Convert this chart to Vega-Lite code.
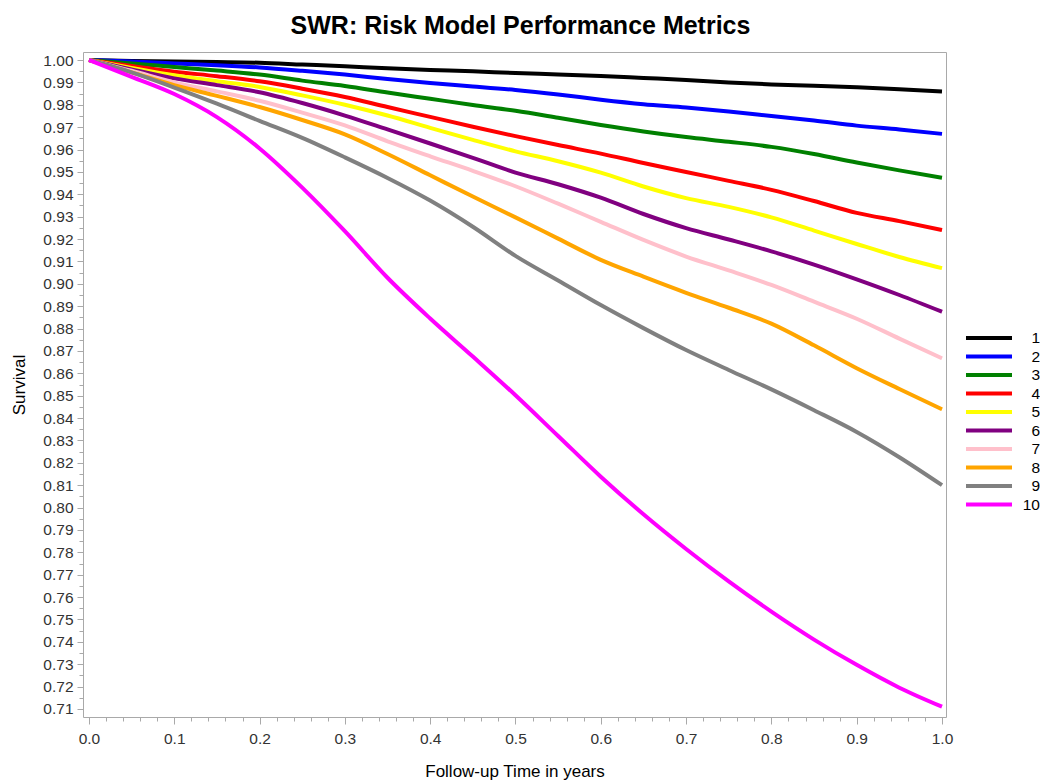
{
  "$schema": "https://vega.github.io/schema/vega-lite/v6.json",
  "autosize": "none",
  "width": 863,
  "height": 665,
  "padding": {"left": 83, "top": 52, "right": 94, "bottom": 67},
  "background": "white",
  "title": {"text": "SWR: Risk Model Performance Metrics", "fontSize": 25, "font": "Liberation Sans", "fontWeight": "bold", "color": "#000000", "anchor": "middle", "offset": -7, "baseline": "alphabetic", "dx": 6},
  "datasets": {
    "km": [
      {"t":0,"s":1.0,"g":1},{"t":0.05,"s":0.9996,"g":1},{"t":0.1,"s":0.9993,"g":1},{"t":0.15,"s":0.9991,"g":1},{"t":0.2,"s":0.9988,"g":1},{"t":0.25,"s":0.998,"g":1},{"t":0.3,"s":0.9972,"g":1},{"t":0.35,"s":0.9963,"g":1},{"t":0.4,"s":0.9956,"g":1},{"t":0.45,"s":0.995,"g":1},{"t":0.5,"s":0.9942,"g":1},{"t":0.55,"s":0.9936,"g":1},{"t":0.6,"s":0.9929,"g":1},{"t":0.65,"s":0.992,"g":1},{"t":0.7,"s":0.9911,"g":1},{"t":0.75,"s":0.99,"g":1},{"t":0.8,"s":0.9891,"g":1},{"t":0.85,"s":0.9885,"g":1},{"t":0.9,"s":0.9878,"g":1},{"t":0.95,"s":0.987,"g":1},{"t":1.0,"s":0.986,"g":1},
      {"t":0,"s":1.0,"g":2},{"t":0.05,"s":0.9993,"g":2},{"t":0.1,"s":0.9985,"g":2},{"t":0.15,"s":0.9977,"g":2},{"t":0.2,"s":0.9967,"g":2},{"t":0.25,"s":0.9952,"g":2},{"t":0.3,"s":0.9935,"g":2},{"t":0.35,"s":0.9915,"g":2},{"t":0.4,"s":0.9897,"g":2},{"t":0.45,"s":0.9882,"g":2},{"t":0.5,"s":0.9866,"g":2},{"t":0.55,"s":0.9846,"g":2},{"t":0.6,"s":0.9823,"g":2},{"t":0.65,"s":0.9803,"g":2},{"t":0.7,"s":0.9788,"g":2},{"t":0.75,"s":0.977,"g":2},{"t":0.8,"s":0.975,"g":2},{"t":0.85,"s":0.973,"g":2},{"t":0.9,"s":0.9707,"g":2},{"t":0.95,"s":0.969,"g":2},{"t":1.0,"s":0.967,"g":2},
      {"t":0,"s":1.0,"g":3},{"t":0.05,"s":0.9985,"g":3},{"t":0.1,"s":0.9969,"g":3},{"t":0.15,"s":0.9953,"g":3},{"t":0.2,"s":0.9935,"g":3},{"t":0.25,"s":0.9908,"g":3},{"t":0.3,"s":0.9884,"g":3},{"t":0.35,"s":0.9855,"g":3},{"t":0.4,"s":0.9827,"g":3},{"t":0.45,"s":0.9799,"g":3},{"t":0.5,"s":0.9773,"g":3},{"t":0.55,"s":0.9742,"g":3},{"t":0.6,"s":0.971,"g":3},{"t":0.65,"s":0.9681,"g":3},{"t":0.7,"s":0.9656,"g":3},{"t":0.75,"s":0.9635,"g":3},{"t":0.8,"s":0.9612,"g":3},{"t":0.85,"s":0.958,"g":3},{"t":0.9,"s":0.9542,"g":3},{"t":0.95,"s":0.9507,"g":3},{"t":1.0,"s":0.9474,"g":3},
      {"t":0,"s":1.0,"g":4},{"t":0.05,"s":0.9973,"g":4},{"t":0.1,"s":0.9948,"g":4},{"t":0.15,"s":0.9928,"g":4},{"t":0.2,"s":0.9905,"g":4},{"t":0.25,"s":0.9872,"g":4},{"t":0.3,"s":0.9835,"g":4},{"t":0.35,"s":0.979,"g":4},{"t":0.4,"s":0.9746,"g":4},{"t":0.45,"s":0.9702,"g":4},{"t":0.5,"s":0.966,"g":4},{"t":0.55,"s":0.962,"g":4},{"t":0.6,"s":0.9582,"g":4},{"t":0.65,"s":0.954,"g":4},{"t":0.7,"s":0.95,"g":4},{"t":0.75,"s":0.946,"g":4},{"t":0.8,"s":0.942,"g":4},{"t":0.85,"s":0.937,"g":4},{"t":0.9,"s":0.9317,"g":4},{"t":0.95,"s":0.928,"g":4},{"t":1.0,"s":0.924,"g":4},
      {"t":0,"s":1.0,"g":5},{"t":0.05,"s":0.9965,"g":5},{"t":0.1,"s":0.9932,"g":5},{"t":0.15,"s":0.9905,"g":5},{"t":0.2,"s":0.988,"g":5},{"t":0.25,"s":0.9842,"g":5},{"t":0.3,"s":0.98,"g":5},{"t":0.35,"s":0.9752,"g":5},{"t":0.4,"s":0.9697,"g":5},{"t":0.45,"s":0.9643,"g":5},{"t":0.5,"s":0.9592,"g":5},{"t":0.55,"s":0.9548,"g":5},{"t":0.6,"s":0.9497,"g":5},{"t":0.65,"s":0.9435,"g":5},{"t":0.7,"s":0.9383,"g":5},{"t":0.75,"s":0.9344,"g":5},{"t":0.8,"s":0.9297,"g":5},{"t":0.85,"s":0.9238,"g":5},{"t":0.9,"s":0.9178,"g":5},{"t":0.95,"s":0.912,"g":5},{"t":1.0,"s":0.907,"g":5},
      {"t":0,"s":1.0,"g":6},{"t":0.05,"s":0.9958,"g":6},{"t":0.1,"s":0.9918,"g":6},{"t":0.15,"s":0.9888,"g":6},{"t":0.2,"s":0.9856,"g":6},{"t":0.25,"s":0.9808,"g":6},{"t":0.3,"s":0.9752,"g":6},{"t":0.35,"s":0.969,"g":6},{"t":0.4,"s":0.9627,"g":6},{"t":0.45,"s":0.9563,"g":6},{"t":0.5,"s":0.9497,"g":6},{"t":0.55,"s":0.9445,"g":6},{"t":0.6,"s":0.9385,"g":6},{"t":0.65,"s":0.9312,"g":6},{"t":0.7,"s":0.9249,"g":6},{"t":0.75,"s":0.9198,"g":6},{"t":0.8,"s":0.9145,"g":6},{"t":0.85,"s":0.9086,"g":6},{"t":0.9,"s":0.902,"g":6},{"t":0.95,"s":0.895,"g":6},{"t":1.0,"s":0.8875,"g":6},
      {"t":0,"s":1.0,"g":7},{"t":0.05,"s":0.9952,"g":7},{"t":0.1,"s":0.99,"g":7},{"t":0.15,"s":0.986,"g":7},{"t":0.2,"s":0.9818,"g":7},{"t":0.25,"s":0.9765,"g":7},{"t":0.3,"s":0.9708,"g":7},{"t":0.35,"s":0.9637,"g":7},{"t":0.4,"s":0.957,"g":7},{"t":0.45,"s":0.9505,"g":7},{"t":0.5,"s":0.9436,"g":7},{"t":0.55,"s":0.9358,"g":7},{"t":0.6,"s":0.9277,"g":7},{"t":0.65,"s":0.9196,"g":7},{"t":0.7,"s":0.9122,"g":7},{"t":0.75,"s":0.906,"g":7},{"t":0.8,"s":0.8995,"g":7},{"t":0.85,"s":0.892,"g":7},{"t":0.9,"s":0.8844,"g":7},{"t":0.95,"s":0.8755,"g":7},{"t":1.0,"s":0.8667,"g":7},
      {"t":0,"s":1.0,"g":8},{"t":0.05,"s":0.9945,"g":8},{"t":0.1,"s":0.9888,"g":8},{"t":0.15,"s":0.984,"g":8},{"t":0.2,"s":0.979,"g":8},{"t":0.25,"s":0.9732,"g":8},{"t":0.3,"s":0.9668,"g":8},{"t":0.35,"s":0.958,"g":8},{"t":0.4,"s":0.9485,"g":8},{"t":0.45,"s":0.939,"g":8},{"t":0.5,"s":0.9297,"g":8},{"t":0.55,"s":0.9202,"g":8},{"t":0.6,"s":0.9107,"g":8},{"t":0.65,"s":0.9032,"g":8},{"t":0.7,"s":0.896,"g":8},{"t":0.75,"s":0.8893,"g":8},{"t":0.8,"s":0.8822,"g":8},{"t":0.85,"s":0.8725,"g":8},{"t":0.9,"s":0.8623,"g":8},{"t":0.95,"s":0.853,"g":8},{"t":1.0,"s":0.8439,"g":8},
      {"t":0,"s":1.0,"g":9},{"t":0.05,"s":0.9945,"g":9},{"t":0.1,"s":0.9877,"g":9},{"t":0.15,"s":0.9805,"g":9},{"t":0.2,"s":0.9728,"g":9},{"t":0.25,"s":0.9652,"g":9},{"t":0.3,"s":0.9565,"g":9},{"t":0.35,"s":0.9473,"g":9},{"t":0.4,"s":0.9372,"g":9},{"t":0.45,"s":0.9255,"g":9},{"t":0.5,"s":0.9125,"g":9},{"t":0.55,"s":0.9015,"g":9},{"t":0.6,"s":0.8905,"g":9},{"t":0.65,"s":0.8802,"g":9},{"t":0.7,"s":0.8704,"g":9},{"t":0.75,"s":0.8615,"g":9},{"t":0.8,"s":0.8528,"g":9},{"t":0.85,"s":0.8435,"g":9},{"t":0.9,"s":0.8338,"g":9},{"t":0.95,"s":0.8225,"g":9},{"t":1.0,"s":0.81,"g":9},
      {"t":0,"s":1.0,"g":10},{"t":0.05,"s":0.9925,"g":10},{"t":0.1,"s":0.9848,"g":10},{"t":0.15,"s":0.9745,"g":10},{"t":0.2,"s":0.9605,"g":10},{"t":0.25,"s":0.943,"g":10},{"t":0.3,"s":0.9235,"g":10},{"t":0.35,"s":0.9027,"g":10},{"t":0.4,"s":0.8845,"g":10},{"t":0.45,"s":0.8675,"g":10},{"t":0.5,"s":0.8502,"g":10},{"t":0.55,"s":0.832,"g":10},{"t":0.6,"s":0.8138,"g":10},{"t":0.65,"s":0.797,"g":10},{"t":0.7,"s":0.7815,"g":10},{"t":0.75,"s":0.767,"g":10},{"t":0.8,"s":0.7535,"g":10},{"t":0.85,"s":0.741,"g":10},{"t":0.9,"s":0.7297,"g":10},{"t":0.95,"s":0.7195,"g":10},{"t":1.0,"s":0.711,"g":10}
    ]
  },
  "data": {"name": "km"},
  "mark": {"type": "line", "strokeWidth": 4, "clip": true, "interpolate": "monotone"},
  "encoding": {
    "x": {
      "field": "t", "type": "quantitative",
      "scale": {"domain": [-0.007, 1.0047], "nice": false, "zero": false},
      "axis": {
        "title": "Follow-up Time in years",
        "values": [0,0.02,0.04,0.06,0.08,0.1,0.12,0.14,0.16,0.18,0.2,0.22,0.24,0.26,0.28,0.3,0.32,0.34,0.36,0.38,0.4,0.42,0.44,0.46,0.48,0.5,0.52,0.54,0.56,0.58,0.6,0.62,0.64,0.66,0.68,0.7,0.72,0.74,0.76,0.78,0.8,0.82,0.84,0.86,0.88,0.9,0.92,0.94,0.96,0.98,1.0],
        "labelExpr": "round(datum.value*100)%10===0 ? format(datum.value,'.1f') : ''",
        "tickSize": {"condition": {"test": "round(datum.value*100)%10===0", "value": 7}, "value": 4},
        "labelPadding": 7,
        "titlePadding": 17
      }
    },
    "y": {
      "field": "s", "type": "quantitative",
      "scale": {"domain": [0.7064, 1.0036], "nice": false, "zero": false},
      "axis": {
        "title": "Survival",
        "values": [0.71,0.715,0.72,0.725,0.73,0.735,0.74,0.745,0.75,0.755,0.76,0.765,0.77,0.775,0.78,0.785,0.79,0.795,0.8,0.805,0.81,0.815,0.82,0.825,0.83,0.835,0.84,0.845,0.85,0.855,0.86,0.865,0.87,0.875,0.88,0.885,0.89,0.895,0.9,0.905,0.91,0.915,0.92,0.925,0.93,0.935,0.94,0.945,0.95,0.955,0.96,0.965,0.97,0.975,0.98,0.985,0.99,0.995,1.0],
        "labelExpr": "round(datum.value*1000)%10===0 ? format(datum.value,'.2f') : ''",
        "tickSize": {"condition": {"test": "round(datum.value*1000)%10===0", "value": 6}, "value": 4},
        "labelPadding": 4,
        "titlePadding": 14
      }
    },
    "color": {
      "field": "g", "type": "ordinal",
      "scale": {"domain": [1,2,3,4,5,6,7,8,9,10], "range": ["#000000","#0000FF","#008000","#FF0000","#FFFF00","#800080","#FFC0CB","#FFA500","#808080","#FF00FF"]},
      "legend": {
        "title": null, "orient": "none", "legendX": 897, "legendY": 277,
        "symbolType": "M-3.286,0H3.286", "symbolStrokeWidth": 4, "symbolSize": 196,
        "labelFontSize": 15.5, "labelFont": "Liberation Sans", "labelColor": "#000000",
        "labelAlign": "right", "labelOffset": 42, "rowPadding": 0.5
      }
    }
  },
  "config": {
    "view": {"stroke": "#A9A9A9", "strokeWidth": 1},
    "axis": {
      "grid": false, "domain": false,
      "tickColor": "#A9A9A9", "tickWidth": 1,
      "labelFont": "Liberation Sans", "labelFontSize": 15.5, "labelColor": "#333333",
      "titleFont": "Liberation Sans", "titleFontSize": 17, "titleFontWeight": "normal", "titleColor": "#000000",
      "labelOverlap": false, "labelFlush": false, "labelBound": false
    }
  }
}
